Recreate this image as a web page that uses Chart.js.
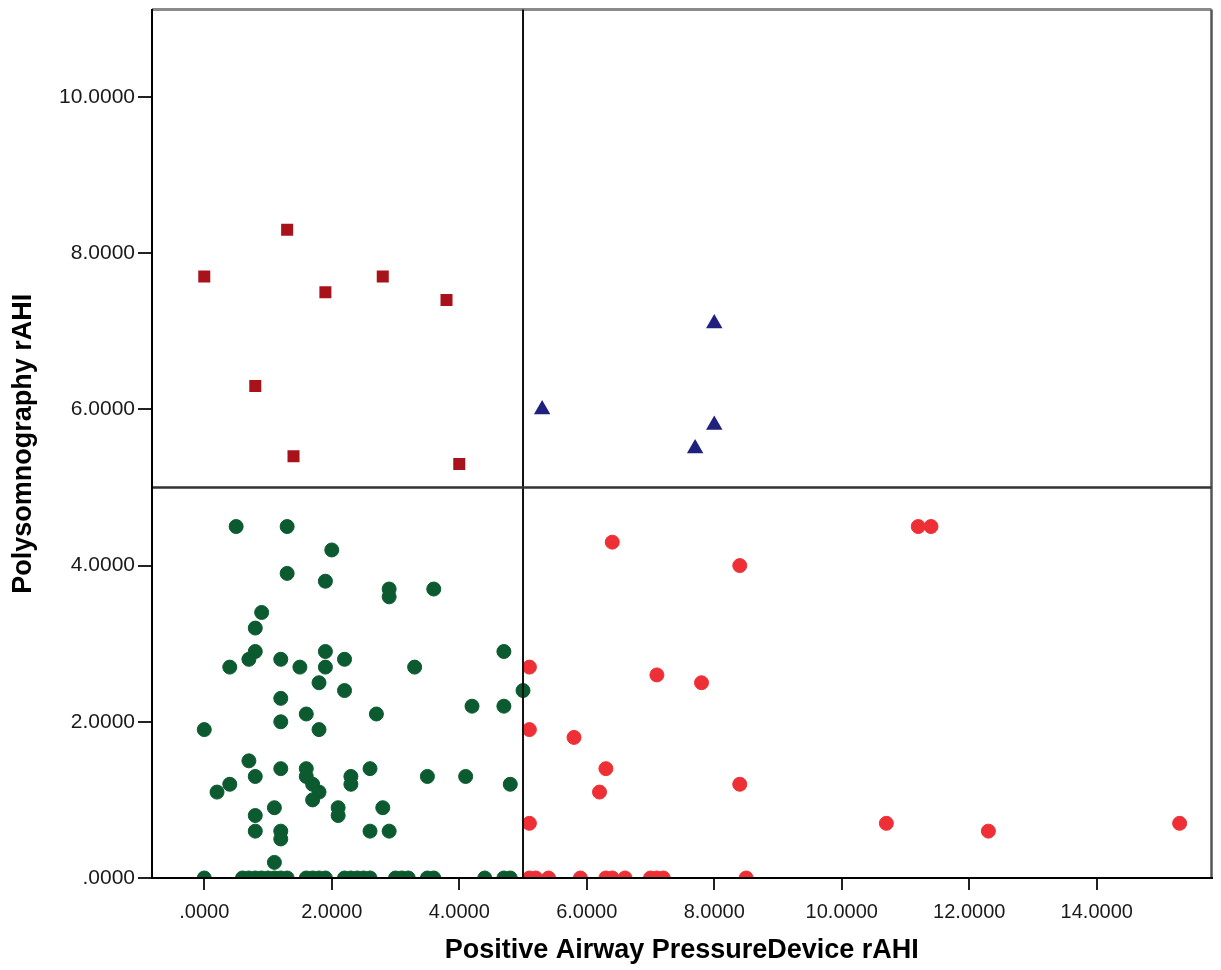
<!DOCTYPE html>
<html>
<head>
<meta charset="utf-8">
<script src="https://cdn.jsdelivr.net/npm/chart.js@4.4.0/dist/chart.umd.min.js"></script>
<style>
    html, body { margin: 0; padding: 0; background: #fff; }
    #wrap { width: 1221px; height: 970px; }
</style>
</head>
<body>
<div id="wrap"><canvas id="scatterChart" width="1221" height="970"></canvas></div>
<script>
// Cut-off lines (rAHI = 5 on both devices)
const cutoffX = 5;
const cutoffY = 5;

// Axis ranges and ticks
const xRange = [-0.82, 15.8];
const yRange = [0, 11.12];
const xTickValues = [0, 2, 4, 6, 8, 10, 12, 14];
const yTickValues = [0, 2, 4, 6, 8, 10];

// Both below cut-off (green circles)
const bothNegX = [0.5, 1.3, 2.0, 1.3, 1.9, 2.9, 2.9, 3.6, 0.9, 0.8,
    0.8, 0.7, 0.4, 1.2, 1.5, 1.9, 1.9, 2.2, 1.8, 2.2,
    3.3, 4.7, 5.0, 4.2, 4.7, 1.2, 1.2, 1.6, 1.8, 2.7,
    0.0, 0.7, 0.8, 0.4, 0.2, 1.2, 1.6, 1.6, 1.7, 1.8,
    1.7, 2.3, 2.3, 2.6, 3.5, 4.1, 4.8, 1.1, 0.8, 0.8,
    1.2, 1.2, 2.1, 2.1, 2.8, 2.6, 2.9, 1.1,
    0.0, 0.6, 0.7, 0.8, 0.9, 1.0, 1.1, 1.2, 1.3, 1.6, 1.7, 1.8, 1.9,
    2.2, 2.3, 2.4, 2.5, 2.6, 3.0, 3.1, 3.2, 3.5, 3.6, 4.4, 4.7, 4.8];
const bothNegY = [4.5, 4.5, 4.2, 3.9, 3.8, 3.7, 3.6, 3.7, 3.4, 3.2,
    2.9, 2.8, 2.7, 2.8, 2.7, 2.9, 2.7, 2.8, 2.5, 2.4,
    2.7, 2.9, 2.4, 2.2, 2.2, 2.3, 2.0, 2.1, 1.9, 2.1,
    1.9, 1.5, 1.3, 1.2, 1.1, 1.4, 1.4, 1.3, 1.2, 1.1,
    1.0, 1.3, 1.2, 1.4, 1.3, 1.3, 1.2, 0.9, 0.8, 0.6,
    0.6, 0.5, 0.9, 0.8, 0.9, 0.6, 0.6, 0.2,
    0, 0, 0, 0, 0, 0, 0, 0, 0, 0, 0, 0, 0,
    0, 0, 0, 0, 0, 0, 0, 0, 0, 0, 0, 0, 0];

// PSG above cut-off only (dark red squares)
const psgOnlyX = [1.3, 0.0, 1.9, 2.8, 3.8, 0.8, 1.4, 4.0];
const psgOnlyY = [8.3, 7.7, 7.5, 7.7, 7.4, 6.3, 5.4, 5.3];

// Both above cut-off (navy triangles)
const bothPosX = [8.0, 5.3, 8.0, 7.7];
const bothPosY = [7.1, 6.0, 5.8, 5.5];

// PAP device above cut-off only (red circles)
const papOnlyX = [6.4, 8.4, 5.1, 7.1, 7.8, 5.1, 5.8, 6.3, 6.2, 8.4,
    5.1, 10.7, 11.2, 11.4, 12.3, 15.3,
    5.1, 5.2, 5.4, 5.9, 6.3, 6.4, 6.6, 7.0, 7.1, 7.2, 8.5];
const papOnlyY = [4.3, 4.0, 2.7, 2.6, 2.5, 1.9, 1.8, 1.4, 1.1, 1.2,
    0.7, 0.7, 4.5, 4.5, 0.6, 0.7,
    0, 0, 0, 0, 0, 0, 0, 0, 0, 0, 0];

const toPoints = (xs, ys) => xs.map((x, i) => ({ x: x, y: ys[i] }));

// Reference lines plus the grey top/right frame
const framePlugin = {
    id: 'frame',
    afterDatasetsDraw(chart) {
        const { ctx, chartArea: a, scales: { x, y } } = chart;
        ctx.save();
        ctx.strokeStyle = '#8a8a8a';
        ctx.lineWidth = 3;
        ctx.beginPath();
        ctx.moveTo(a.left, a.top);
        ctx.lineTo(a.right, a.top);
        ctx.stroke();
        ctx.strokeStyle = '#555';
        ctx.lineWidth = 2.5;
        ctx.beginPath();
        ctx.moveTo(a.right, a.top);
        ctx.lineTo(a.right, a.bottom);
        ctx.stroke();

        const px = x.getPixelForValue(cutoffX);
        const py = y.getPixelForValue(cutoffY);
        ctx.strokeStyle = '#111';
        ctx.lineWidth = 2;
        ctx.beginPath();
        ctx.moveTo(px, a.top);
        ctx.lineTo(px, a.bottom);
        ctx.stroke();
        ctx.strokeStyle = '#333';
        ctx.lineWidth = 2.5;
        ctx.beginPath();
        ctx.moveTo(a.left, py);
        ctx.lineTo(a.right, py);
        ctx.stroke();
        ctx.restore();
    }
};

const fmt = v => (v === 0 ? '.0000' : v.toFixed(4));

const ctx = document.getElementById('scatterChart').getContext('2d');
new Chart(ctx, {
    type: 'scatter',
    data: {
        datasets: [
            {
                label: 'Both < 5',
                data: toPoints(bothNegX, bothNegY),
                pointStyle: 'circle',
                pointRadius: 7,
                backgroundColor: '#0c5a2f',
                borderColor: '#0c5a2f',
                borderWidth: 1,
                clip: 0
            },
            {
                label: 'PAP >= 5 only',
                data: toPoints(papOnlyX, papOnlyY),
                pointStyle: 'circle',
                pointRadius: 7,
                backgroundColor: '#ee3036',
                borderColor: '#ee3036',
                borderWidth: 1,
                clip: 0
            },
            {
                label: 'PSG >= 5 only',
                data: toPoints(psgOnlyX, psgOnlyY),
                pointStyle: 'rect',
                pointRadius: 8.5,
                backgroundColor: '#a8121b',
                borderColor: '#a8121b',
                borderWidth: 0,
                clip: 0
            },
            {
                label: 'Both >= 5',
                data: toPoints(bothPosX, bothPosY),
                pointStyle: 'triangle',
                pointRadius: 9.5,
                backgroundColor: '#20207e',
                borderColor: '#20207e',
                borderWidth: 0,
                clip: 0
            }
        ]
    },
    options: {
        responsive: false,
        devicePixelRatio: 1,
        animation: false,
        events: [],
        layout: { padding: { top: 8, right: 5, bottom: 0, left: 0 } },
        plugins: {
            legend: { display: false },
            tooltip: { enabled: false }
        },
        scales: {
            x: {
                type: 'linear',
                min: xRange[0],
                max: xRange[1],
                afterBuildTicks: s => { s.ticks = xTickValues.map(v => ({ value: v })); },
                afterFit: s => { s.height = 92; s.paddingLeft = 0; s.paddingRight = 0; },
                grid: { drawOnChartArea: false, drawTicks: true, tickLength: 12, color: '#222', lineWidth: 2, z: 1 },
                border: { display: true, color: '#000', width: 2, z: 1 },
                ticks: {
                    padding: 10,
                    color: '#1a1a1a',
                    font: { family: "'Liberation Sans', Arial, sans-serif", size: 20 },
                    maxRotation: 0,
                    autoSkip: false,
                    callback: v => fmt(v)
                },
                title: {
                    display: true,
                    text: 'Positive Airway PressureDevice rAHI',
                    color: '#000',
                    font: { family: "'Liberation Sans', Arial, sans-serif", size: 27, weight: 'bold' },
                    padding: { top: 0, bottom: 3 }
                }
            },
            y: {
                type: 'linear',
                min: yRange[0],
                max: yRange[1],
                afterBuildTicks: s => { s.ticks = yTickValues.map(v => ({ value: v })); },
                afterFit: s => { s.width = 152; s.paddingTop = 0; s.paddingBottom = 0; },
                grid: { drawOnChartArea: false, drawTicks: true, tickLength: 14, color: '#222', lineWidth: 2, z: 1 },
                border: { display: true, color: '#000', width: 2, z: 1 },
                ticks: {
                    padding: 3,
                    color: '#1a1a1a',
                    font: { family: "'Liberation Sans', Arial, sans-serif", size: 21 },
                    autoSkip: false,
                    callback: v => fmt(v)
                },
                title: {
                    display: true,
                    text: 'Polysomnography rAHI',
                    color: '#000',
                    font: { family: "'Liberation Sans', Arial, sans-serif", size: 27, weight: 'bold' },
                    padding: { top: 7, bottom: 0 }
                }
            }
        }
    },
    plugins: [framePlugin]
});
</script>
</body>
</html>
